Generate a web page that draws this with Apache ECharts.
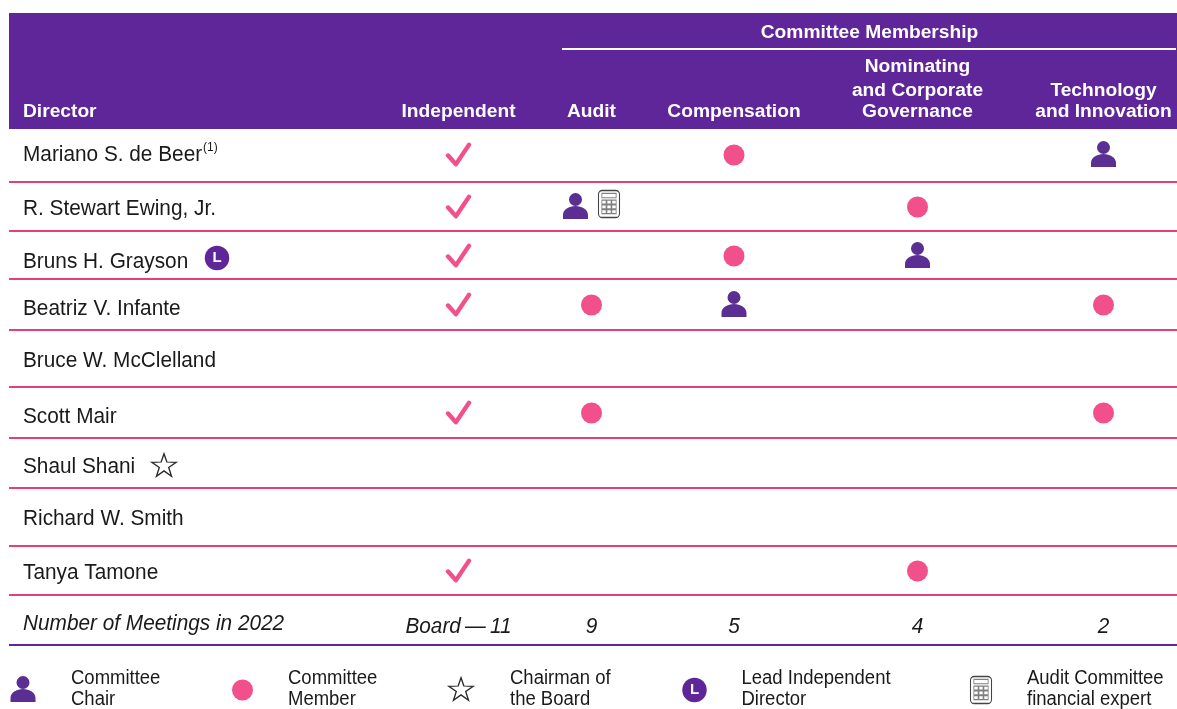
<!DOCTYPE html>
<html>
<head>
    <meta charset="UTF-8">
    <script type="text/javascript" src="https://cdn.jsdelivr.net/npm/echarts@6/dist/echarts.min.js"></script>
    <style type="text/css">
        *{
            margin: 0;
            padding: 0;
        }
        #main{
            width: 1177px;
            height: 709px;
        }
    </style>
</head>
<body>
<div id="main"></div>
<script type="text/javascript">
    // table content
    var directors = ['Mariano S. de Beer', 'R. Stewart Ewing, Jr.', 'Bruns H. Grayson', 'Beatriz V. Infante', 'Bruce W. McClelland', 'Scott Mair', 'Shaul Shani', 'Richard W. Smith', 'Tanya Tamone'];
    var independent = [1, 1, 1, 1, 0, 1, 0, 0, 1];
    var committees = ['Audit', 'Compensation', 'Nominating\nand Corporate\nGovernance', 'Technology\nand Innovation'];
    var audit = ['', 'chair', '', 'member', '', 'member', '', '', ''];
    var compensation = ['member', '', 'member', 'chair', '', '', '', '', ''];
    var nominating = ['', 'member', 'chair', '', '', '', '', '', 'member'];
    var technology = ['chair', '', '', 'member', '', 'member', '', '', ''];
    var meetings = ['9', '5', '4', '2'];
    var legendLabels = ['Committee\nChair', 'Committee\nMember', 'Chairman of\nthe Board', 'Lead Independent\nDirector', 'Audit Committee\nfinancial expert'];

    // layout, in page pixels
    var committeeX = [591.5, 734, 917.5, 1103.5];
    var independentX = 458.5;
    var markY = [155, 207, 256, 305, 359, 413, 466, 518, 571];
    var nameY = [155, 209, 262, 309, 361, 417, 467, 519, 573];
    var ruleY = [182, 231, 279, 330, 387, 438, 488, 546, 595];

    var PURPLE = '#5f2699', CHAIR = '#5a2e92', PINK = '#f1508a', RULE = '#e83f79', INK = '#1a1a1a';

    var personPath = 'path://M6 6.5a6.5 6.5 0 1 0 13 0a6.5 6.5 0 1 0 -13 0ZM0 26V22C0 16.5 6 13 12.5 13C19 13 25 16.5 25 22V26Z';
    var starPath = 'path://M12.5 0L15.4 8.8L25 9.1L17.3 14.7L20.2 24L12.5 18.3L4.8 24L7.7 14.7L0 9.1L9.6 8.8Z';
    var checkPath = 'path://M0 12L9 22L24 0';
    var calcPath = 'path://M4 0H18A4 4 0 0 1 22 4V24A4 4 0 0 1 18 28H4A4 4 0 0 1 0 24V4A4 4 0 0 1 4 0Z';
    var keysPath = 'path://M0 0H15V4.5H0ZM0 7H4.5V11H0ZM5.3 7H9.7V11H5.3ZM10.5 7H15V11H10.5Z' +
        'M0 12H4.5V16H0ZM5.3 12H9.7V16H5.3ZM10.5 12H15V16H10.5Z' +
        'M0 17H4.5V21H0ZM5.3 17H9.7V21H5.3ZM10.5 17H15V21H10.5Z';

    // collect marks from the role arrays
    var roles = [audit, compensation, nominating, technology];
    var chairPoints = [], memberPoints = [];
    roles.forEach(function (list, c) {
        list.forEach(function (role, r) {
            if (role === 'member') {
                memberPoints.push([committeeX[c], markY[r]]);
            } else if (role === 'chair') {
                // the audit chair is also the financial expert, so it shifts left
                var x = (c === 0 && r === 1) ? 575.5 : committeeX[c];
                chairPoints.push([x, markY[r] - 1]);
            }
        });
    });
    var checkPoints = [];
    independent.forEach(function (flag, r) {
        if (flag) {
            checkPoints.push([independentX, markY[r] - 0.5]);
        }
    });

    // legend icons sit with the other marks of their type
    chairPoints.push([23, 689]);
    memberPoints.push([242.5, 690]);
    var starPoints = [[164, 465], [461, 689]];
    var leadPoints = [[217, 258], [694.5, 690]];
    var calcPoints = [[609, 204], [981, 690]];
    var keyPoints = [[609, 203.5], [981, 689.5]];

    // every text: [x, y, text, style key]
    var texts = [];
    var fonts = {
        head: {font: 'bold 19.2px "Liberation Sans"', fill: '#fff', scale: 1},
        body: {font: '22px "Liberation Sans"', fill: INK, scale: 0.945},
        ital: {font: 'italic 22px "Liberation Sans"', fill: INK, scale: 0.945},
        sup: {font: '12px "Liberation Sans"', fill: INK, scale: 1},
        legend: {font: '19.5px "Liberation Sans"', fill: INK, scale: 0.948}
    };
    function addText(x, y, str, key, align) {
        texts.push([x, y, str, key, align || 'left']);
    }

    addText(23, 112, 'Director', 'head');
    addText(independentX, 112, 'Independent', 'head', 'center');
    addText(869.5, 33, 'Committee Membership', 'head', 'center');
    var headLineY = [112, 91, 67];
    committees.forEach(function (name, c) {
        var lines = name.split('\n').reverse();
        lines.forEach(function (line, i) {
            addText(committeeX[c], headLineY[i], line, 'head', 'center');
        });
    });
    directors.forEach(function (name, r) {
        addText(23, nameY[r], name, 'body');
    });
    addText(203, 148, '(1)', 'sup');
    addText(23, 624, 'Number of Meetings in 2022', 'ital');
    addText(independentX, 627, 'Board\u2009\u2014\u200911', 'ital', 'center');
    meetings.forEach(function (m, c) {
        addText(committeeX[c], 627, m, 'ital', 'center');
    });
    var legendX = [71, 288, 510, 741.5, 1027];
    legendLabels.forEach(function (label, i) {
        var parts = label.split('\n');
        addText(legendX[i], 679, parts[0], 'legend');
        addText(legendX[i], 700, parts[1], 'legend');
    });

    var myChart = echarts.init(document.getElementById('main'));
    var option = {
        animation: false,
        grid: {left: 0, right: 0, top: 0, bottom: 0},
        xAxis: {type: 'value', min: 0, max: 1177, show: false},
        yAxis: {type: 'value', min: 0, max: 709, inverse: true, show: false},
        series: [
            {
                // header band
                type: 'custom',
                silent: true,
                z: 1,
                data: [[9, 13, 1177, 129]],
                renderItem: function (params, api) {
                    var a = api.coord([api.value(0), api.value(1)]);
                    var b = api.coord([api.value(2), api.value(3)]);
                    return {
                        type: 'rect',
                        shape: {x: a[0], y: a[1], width: b[0] - a[0], height: b[1] - a[1]},
                        style: {fill: PURPLE}
                    };
                }
            },
            {
                // row rules, then the purple closing rule and the white header line
                type: 'custom',
                silent: true,
                z: 2,
                data: ruleY.map(function (y) { return [9, 1177, y, 0]; }).concat([[9, 1177, 645, 1], [562, 1176, 49, 2]]),
                renderItem: function (params, api) {
                    var a = api.coord([api.value(0), api.value(2)]);
                    var b = api.coord([api.value(1), api.value(2)]);
                    return {
                        type: 'line',
                        shape: {x1: a[0], y1: a[1], x2: b[0], y2: b[1]},
                        style: {stroke: [RULE, PURPLE, '#fff'][api.value(3)], lineWidth: 2}
                    };
                }
            },
            {
                name: 'Committee Member',
                type: 'scatter',
                silent: true,
                symbol: 'circle',
                symbolSize: 21,
                itemStyle: {color: PINK, opacity: 1},
                data: memberPoints
            },
            {
                name: 'Committee Chair',
                type: 'scatter',
                silent: true,
                symbol: personPath,
                symbolSize: [25, 26],
                itemStyle: {color: CHAIR, opacity: 1},
                data: chairPoints
            },
            {
                name: 'Independent',
                type: 'scatter',
                silent: true,
                symbol: checkPath,
                symbolSize: [21, 19.5],
                itemStyle: {color: 'transparent', borderColor: PINK, borderWidth: 4.4, borderCap: 'round', borderJoin: 'round', opacity: 1},
                data: checkPoints
            },
            {
                name: 'Chairman of the Board',
                type: 'scatter',
                silent: true,
                symbol: starPath,
                symbolSize: [24.5, 22.5],
                itemStyle: {color: '#fff', borderColor: '#2a2a2a', borderWidth: 1.3, opacity: 1},
                data: starPoints
            },
            {
                name: 'Lead Independent Director',
                type: 'scatter',
                silent: true,
                symbol: 'circle',
                symbolSize: 24.5,
                itemStyle: {color: PURPLE, opacity: 1},
                label: {show: true, position: 'inside', formatter: 'L', color: '#fff', fontFamily: 'Liberation Sans', fontWeight: 'bold', fontSize: 15},
                data: leadPoints
            },
            {
                name: 'Audit Committee financial expert',
                type: 'scatter',
                silent: true,
                symbol: calcPath,
                symbolSize: [21, 27],
                itemStyle: {color: '#fff', borderColor: '#444', borderWidth: 1.2, opacity: 1},
                data: calcPoints
            },
            {
                name: 'Calculator keys',
                type: 'scatter',
                silent: true,
                z: 3,
                symbol: keysPath,
                symbolSize: [14.3, 20.2],
                itemStyle: {color: '#fff', borderColor: '#808080', borderWidth: 1, opacity: 1},
                data: keyPoints
            },
            {
                type: 'custom',
                silent: true,
                z: 5,
                data: texts,
                renderItem: function (params, api) {
                    var t = texts[params.dataIndex];
                    var p = api.coord([t[0], t[1]]);
                    var f = fonts[t[3]];
                    return {
                        type: 'text',
                        x: p[0],
                        y: p[1],
                        scaleX: f.scale,
                        style: {
                            text: t[2],
                            font: f.font,
                            fill: f.fill,
                            align: t[4],
                            verticalAlign: 'middle'
                        }
                    };
                }
            }
        ]
    };
    myChart.setOption(option);
</script>
</body>
</html>
